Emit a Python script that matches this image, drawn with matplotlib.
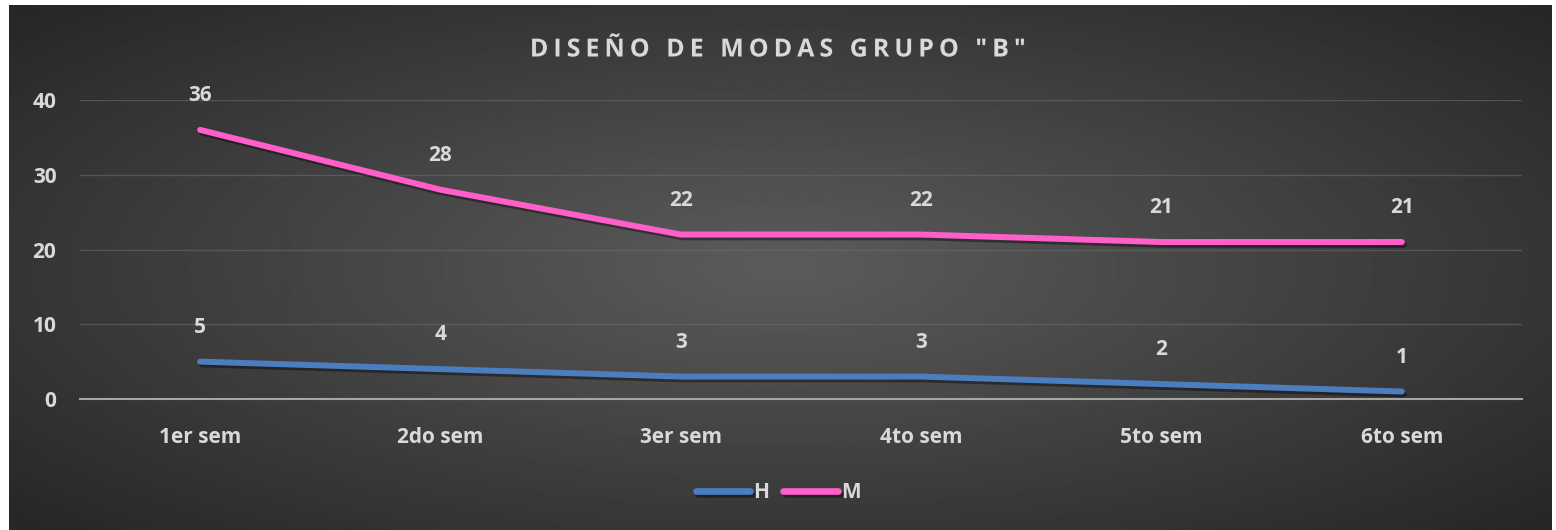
import numpy as np
import matplotlib
matplotlib.use('Agg')
import matplotlib.pyplot as plt
import matplotlib.patheffects as pe

plt.rcParams['font.family'] = ['Open Sans', 'DejaVu Sans']
plt.rcParams['font.weight'] = 'bold'

# data
semestres = ['1er sem', '2do sem', '3er sem', '4to sem', '5to sem', '6to sem']
hombres = [5, 4, 3, 3, 2, 1]
mujeres = [36, 28, 22, 22, 21, 21]
titulo = 'DISEÑO DE MODAS GRUPO "B"'

txt_col = '#D9D9D9'
fig = plt.figure(figsize=(15.56, 5.30), dpi=100)
fig.patch.set_facecolor('white')

# radial gradient background (dark frame inside a thin white border)
bg = fig.add_axes([9 / 1556, 0, (1552 - 9) / 1556, 525 / 530])
yy, xx = np.mgrid[-1:1:300j, -1:1:800j]
r = np.sqrt((xx * 0.95) ** 2 + (yy * 0.9) ** 2)
shade = 0.36 - 0.21 * np.clip(r, 0, 1.3) / 1.3
bg.imshow(shade, cmap='gray', vmin=0, vmax=1, aspect='auto', extent=[0, 1, 0, 1])
bg.set_axis_off()

ax = fig.add_axes([80 / 1556, 1 - 399 / 530, (1522 - 80) / 1556, (399 - 100) / 530])
ax.set_facecolor('none')
x = np.arange(len(semestres))

shadow = [pe.SimpleLineShadow(offset=(1.5, -2), shadow_color='black', alpha=0.4), pe.Normal()]
ax.plot(x, hombres, color='#4A7EC1', lw=4.3, solid_capstyle='round', label='H', path_effects=shadow, zorder=3)
ax.plot(x, mujeres, color='#FF5FC9', lw=4.3, solid_capstyle='round', label='M', path_effects=shadow, zorder=3)

for serie in (hombres, mujeres):
    for xi, v in zip(x, serie):
        ax.annotate(str(v), (xi, v), xytext=(0, 17), textcoords='offset points', ha='center', va='bottom',
                    color=txt_col, fontsize=15, fontweight='bold')

ax.set_xlim(-0.5, len(semestres) - 0.5)
ax.set_ylim(0, 40)
ax.set_yticks([0, 10, 20, 30, 40])
ax.set_xticks(x)
ax.set_xticklabels(semestres)
ax.tick_params(length=0, colors=txt_col, labelsize=15, pad=20)
ax.tick_params(axis='y', pad=17)
for lbl in ax.get_xticklabels() + ax.get_yticklabels():
    lbl.set_fontweight('bold')
    lbl.set_color(txt_col)
ax.grid(axis='y', color='#6a6a6a', lw=1, alpha=0.6)
ax.set_axisbelow(True)
for s in ['top', 'right', 'left']:
    ax.spines[s].set_visible(False)
ax.spines['bottom'].set_color('#A6A6A6')
ax.spines['bottom'].set_linewidth(1.5)

# letter spacing approximation with thin spaces
fig.text(0.5, 1 - 50 / 530, '\u2009'.join(titulo), ha='center', va='center', color=txt_col,
         fontsize=18, fontweight='bold',
         path_effects=[pe.withSimplePatchShadow(offset=(1, -1), alpha=0.5)])

leg = fig.legend(loc='center', bbox_to_anchor=(0.5, 1 - 493 / 530), ncol=2, frameon=False,
                 handlelength=2.6, handletextpad=0.15, columnspacing=0.7, fontsize=15)
for t in leg.get_texts():
    t.set_color(txt_col)
    t.set_fontweight('bold')
for h in leg.get_lines():
    h.set_linewidth(4.8)
    h.set_solid_capstyle('round')

fig.savefig('out.png', dpi=100)
